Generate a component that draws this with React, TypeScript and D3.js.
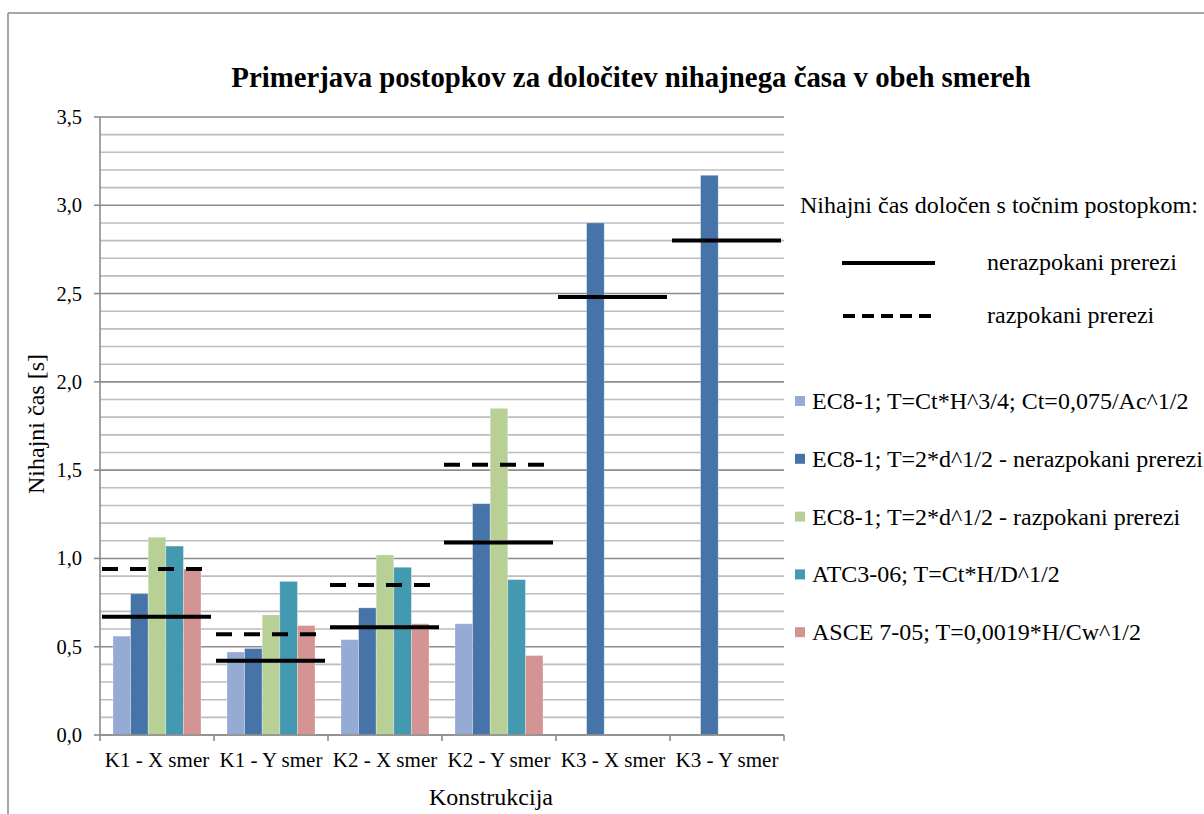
import React from "react";
import * as d3 from "d3";

const categories = ["K1 - X smer", "K1 - Y smer", "K2 - X smer", "K2 - Y smer", "K3 - X smer", "K3 - Y smer"];
const seriesNames = [
  "EC8-1; T=Ct*H^3/4; Ct=0,075/Ac^1/2",
  "EC8-1; T=2*d^1/2 - nerazpokani prerezi",
  "EC8-1; T=2*d^1/2 - razpokani prerezi",
  "ATC3-06; T=Ct*H/D^1/2",
  "ASCE 7-05; T=0,0019*H/Cw^1/2",
];
const seriesColors = ["#95abd3", "#4674a9", "#b8cf95", "#4399b0", "#d49493"];
const s1 = [0.56, 0.47, 0.54, 0.63, null, null];
const s2 = [0.8, 0.49, 0.72, 1.31, 2.9, 3.17];
const s3 = [1.12, 0.68, 1.02, 1.85, null, null];
const s4 = [1.07, 0.87, 0.95, 0.88, null, null];
const s5 = [0.94, 0.62, 0.63, 0.45, null, null];
const seriesValues = [s1, s2, s3, s4, s5];
const uncracked = [0.67, 0.42, 0.61, 1.09, 2.48, 2.8];
const cracked = [0.94, 0.57, 0.85, 1.53, null, null];
const yTicks = [0, 0.5, 1.0, 1.5, 2.0, 2.5, 3.0, 3.5];

const title = "Primerjava postopkov za določitev nihajnega časa v obeh smereh";
const yTitle = "Nihajni čas [s]";
const xTitle = "Konstrukcija";
const legendHeader = "Nihajni čas določen s točnim postopkom:";
const lineLabels = ["nerazpokani prerezi", "razpokani prerezi"];

const FONT = "'Liberation Serif', 'Times New Roman', serif";

export default function App() {
  const left = 100, right = 784, top = 117, bottom = 735;
  const x = d3.scaleBand<string>().domain(categories).range([left, right]).paddingInner(0).paddingOuter(0);
  const bw = x.bandwidth();
  const inner = d3.scaleBand<number>().domain(d3.range(seriesNames.length)).range([13, bw - 13]).padding(0);
  const y = d3.scaleLinear().domain([0, 3.5]).range([bottom, top]);
  const minor = d3.range(0, 36).map((i) => i / 10);
  const fmt = (v: number) => d3.format(".1f")(v).replace(".", ",");

  return (
    <svg width={1204} height={814} style={{ position: "absolute", left: 0, top: 0, background: "#fff" }} fontFamily={FONT}>
      <rect x={0} y={0} width={1204} height={814} fill="#fff" />
      {/* frame */}
      <line x1={8} y1={13} x2={1204} y2={13} stroke="#8a8a8a" strokeWidth={1.5} />
      <line x1={8} y1={13} x2={8} y2={814} stroke="#8a8a8a" strokeWidth={1.5} />

      <text x={631} y={87} textAnchor="middle" fontSize={28.8} fontWeight="bold" fill="#000">{title}</text>

      {/* gridlines */}
      {minor.map((v, i) => (
        <line key={"g" + i} x1={left} x2={right} y1={y(v)} y2={y(v)}
          stroke={i % 5 === 0 ? "#8c8c8c" : "#bdbdbd"} strokeWidth={1.6} />
      ))}

      {/* bars */}
      {seriesValues.map((vals, si) =>
        vals.map((v, ci) =>
          v == null ? null : (
            <rect key={`b${si}-${ci}`} x={(x(categories[ci]) as number) + (inner(si) as number)} y={y(v)}
              width={inner.bandwidth()} height={y(0) - y(v)} fill={seriesColors[si]}
              stroke="#ffffff" strokeOpacity={0.35} strokeWidth={0.8} />
          )
        )
      )}

      {/* exact period lines */}
      {uncracked.map((v, ci) =>
        v == null ? null : (
          <line key={"u" + ci} x1={(x(categories[ci]) as number) + 2} x2={(x(categories[ci]) as number) + bw - 3}
            y1={y(v)} y2={y(v)} stroke="#000" strokeWidth={4} />
        )
      )}
      {cracked.map((v, ci) =>
        v == null ? null : (
          <line key={"c" + ci} x1={(x(categories[ci]) as number) + 2} x2={(x(categories[ci]) as number) + bw - 3}
            y1={y(v)} y2={y(v)} stroke="#000" strokeWidth={4} strokeDasharray="16 12" />
        )
      )}

      {/* axes */}
      <line x1={left} x2={left} y1={top} y2={bottom} stroke="#8c8c8c" strokeWidth={1.6} />
      <line x1={left} x2={right} y1={bottom} y2={bottom} stroke="#8c8c8c" strokeWidth={1.6} />
      {yTicks.map((t) => (
        <g key={"yt" + t}>
          <line x1={left - 6} x2={left} y1={y(t)} y2={y(t)} stroke="#8c8c8c" strokeWidth={1.6} />
          <text x={82} y={y(t) + 7} textAnchor="end" fontSize={20.5} fill="#000">{fmt(t)}</text>
        </g>
      ))}
      {categories.map((c, i) => (
        <line key={"xt" + i} x1={(x(c) as number)} x2={(x(c) as number)} y1={bottom} y2={bottom + 6} stroke="#8c8c8c" strokeWidth={1.6} />
      ))}
      <line x1={right} x2={right} y1={bottom} y2={bottom + 6} stroke="#8c8c8c" strokeWidth={1.6} />
      {categories.map((c) => (
        <text key={"xl" + c} x={(x(c) as number) + bw / 2} y={767} textAnchor="middle" fontSize={21} fill="#000">{c}</text>
      ))}

      <text x={491} y={805} textAnchor="middle" fontSize={24} fill="#000">{xTitle}</text>
      <text transform={`translate(44, ${(top + bottom) / 2 - 2}) rotate(-90)`} textAnchor="middle" fontSize={24} fill="#000">{yTitle}</text>

      {/* legend: exact lines */}
      <text x={800} y={213} fontSize={24} fill="#000">{legendHeader}</text>
      <line x1={842} x2={935} y1={263} y2={263} stroke="#000" strokeWidth={4} />
      <line x1={843} x2={935} y1={316} y2={316} stroke="#000" strokeWidth={4} strokeDasharray="12 7" />
      <text x={987} y={270} fontSize={24} fill="#000">{lineLabels[0]}</text>
      <text x={987} y={323} fontSize={24} fill="#000">{lineLabels[1]}</text>

      {/* legend: series */}
      {seriesNames.map((n, i) => {
        const cy = 401 + i * 57.8;
        return (
          <g key={"lg" + i}>
            <rect x={795} y={cy - 5} width={10} height={10} fill={seriesColors[i]} />
            <text x={812} y={cy + 8} fontSize={24} fill="#000">{n}</text>
          </g>
        );
      })}
    </svg>
  );
}
